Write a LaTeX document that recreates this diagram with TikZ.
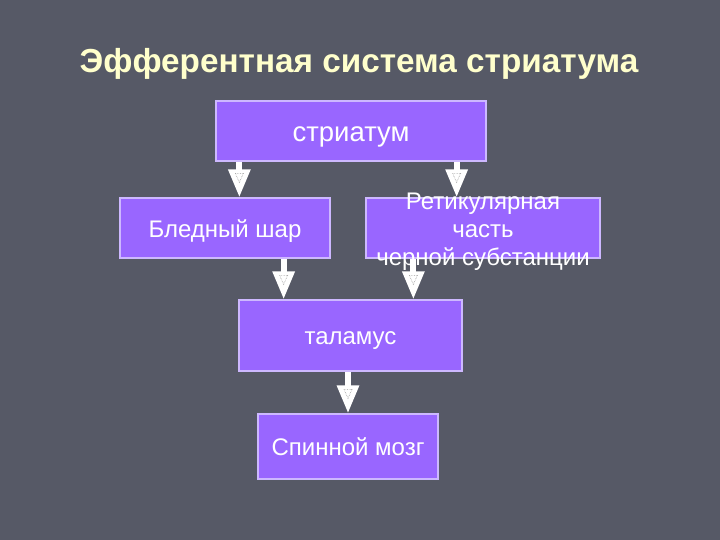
\documentclass[tikz,border=0pt]{standalone}
\usepackage{fontspec}
\setmainfont{Liberation Sans}
\usetikzlibrary{arrows.meta,calc}
\definecolor{bgc}{HTML}{565966}
\definecolor{boxc}{HTML}{9966FF}
\definecolor{edgec}{HTML}{CDB8FF}
\definecolor{titlec}{HTML}{FFFFCC}
\tikzset{
  box/.style={draw=edgec, line width=1.3pt, fill=boxc, inner sep=0pt, text=white, font=\fontsize{24}{28}\selectfont, text height=19pt, text depth=0pt},
  flow/.style={draw=white, line width=6pt, -{Triangle[width=21pt,length=28pt,fill=white]}},
  innertri/.style={draw=gray!80, densely dotted, line width=0.6pt}
}
\newcommand{\tritag}[1]{\draw[innertri] ($#1+(-4,24)$) -- ($#1+(4,24)$) -- ($#1+(0,15)$) -- cycle;}
\begin{document}
\begin{tikzpicture}[x=1pt,y=1pt]
\fill[bgc] (0,0) rectangle (720,540);
\useasboundingbox (0,0) rectangle (720,540);
\node[text=titlec, font=\bfseries\fontsize{33.3}{38}\selectfont] (title) at (359,476) {Эфферентная система стриатума};
\node[box, minimum width=270pt, minimum height=60pt, font=\fontsize{27.5}{32}\selectfont, text height=21.5pt] (s) at (351,409) {стриатум};
\node[box, minimum width=210pt, minimum height=60pt] (bl) at (225,312) {Бледный шар};
\node[box, minimum width=234pt, minimum height=60pt] (r) at (483,312) {};
\node[text=white, align=center, font=\fontsize{24}{28}\selectfont] (rt) at ([yshift=-4pt]r.center) {Ретикулярная\\часть\\черной субстанции};
\node[box, minimum width=223pt, minimum height=71pt] (t) at (350.5,204.5) {таламус};
\node[box, minimum width=180pt, minimum height=65pt] (sm) at (348,93.5) {Спинной мозг};
\coordinate (a1) at ([xshift=24pt]s.south west |- bl.north);
\coordinate (a2) at ([xshift=-30pt]s.south east |- r.north);
\coordinate (a3) at ([xshift=-47pt]bl.south east |- t.north);
\coordinate (a4) at ([xshift=48pt]r.south west |- t.north);
\coordinate (a5) at ([xshift=-2.5pt]t.south |- sm.north);
\draw[flow] ([xshift=24pt]s.south west) -- (a1);
\draw[flow] ([xshift=-30pt]s.south east) -- (a2);
\draw[flow] ([xshift=-47pt]bl.south east) -- (a3);
\draw[flow] ([xshift=48pt]r.south west) -- (a4);
\draw[flow] ([xshift=-2.5pt]t.south) -- (a5);
\tritag{(a1)}
\tritag{(a2)}
\tritag{(a3)}
\tritag{(a4)}
\tritag{(a5)}
\end{tikzpicture}
\end{document}
